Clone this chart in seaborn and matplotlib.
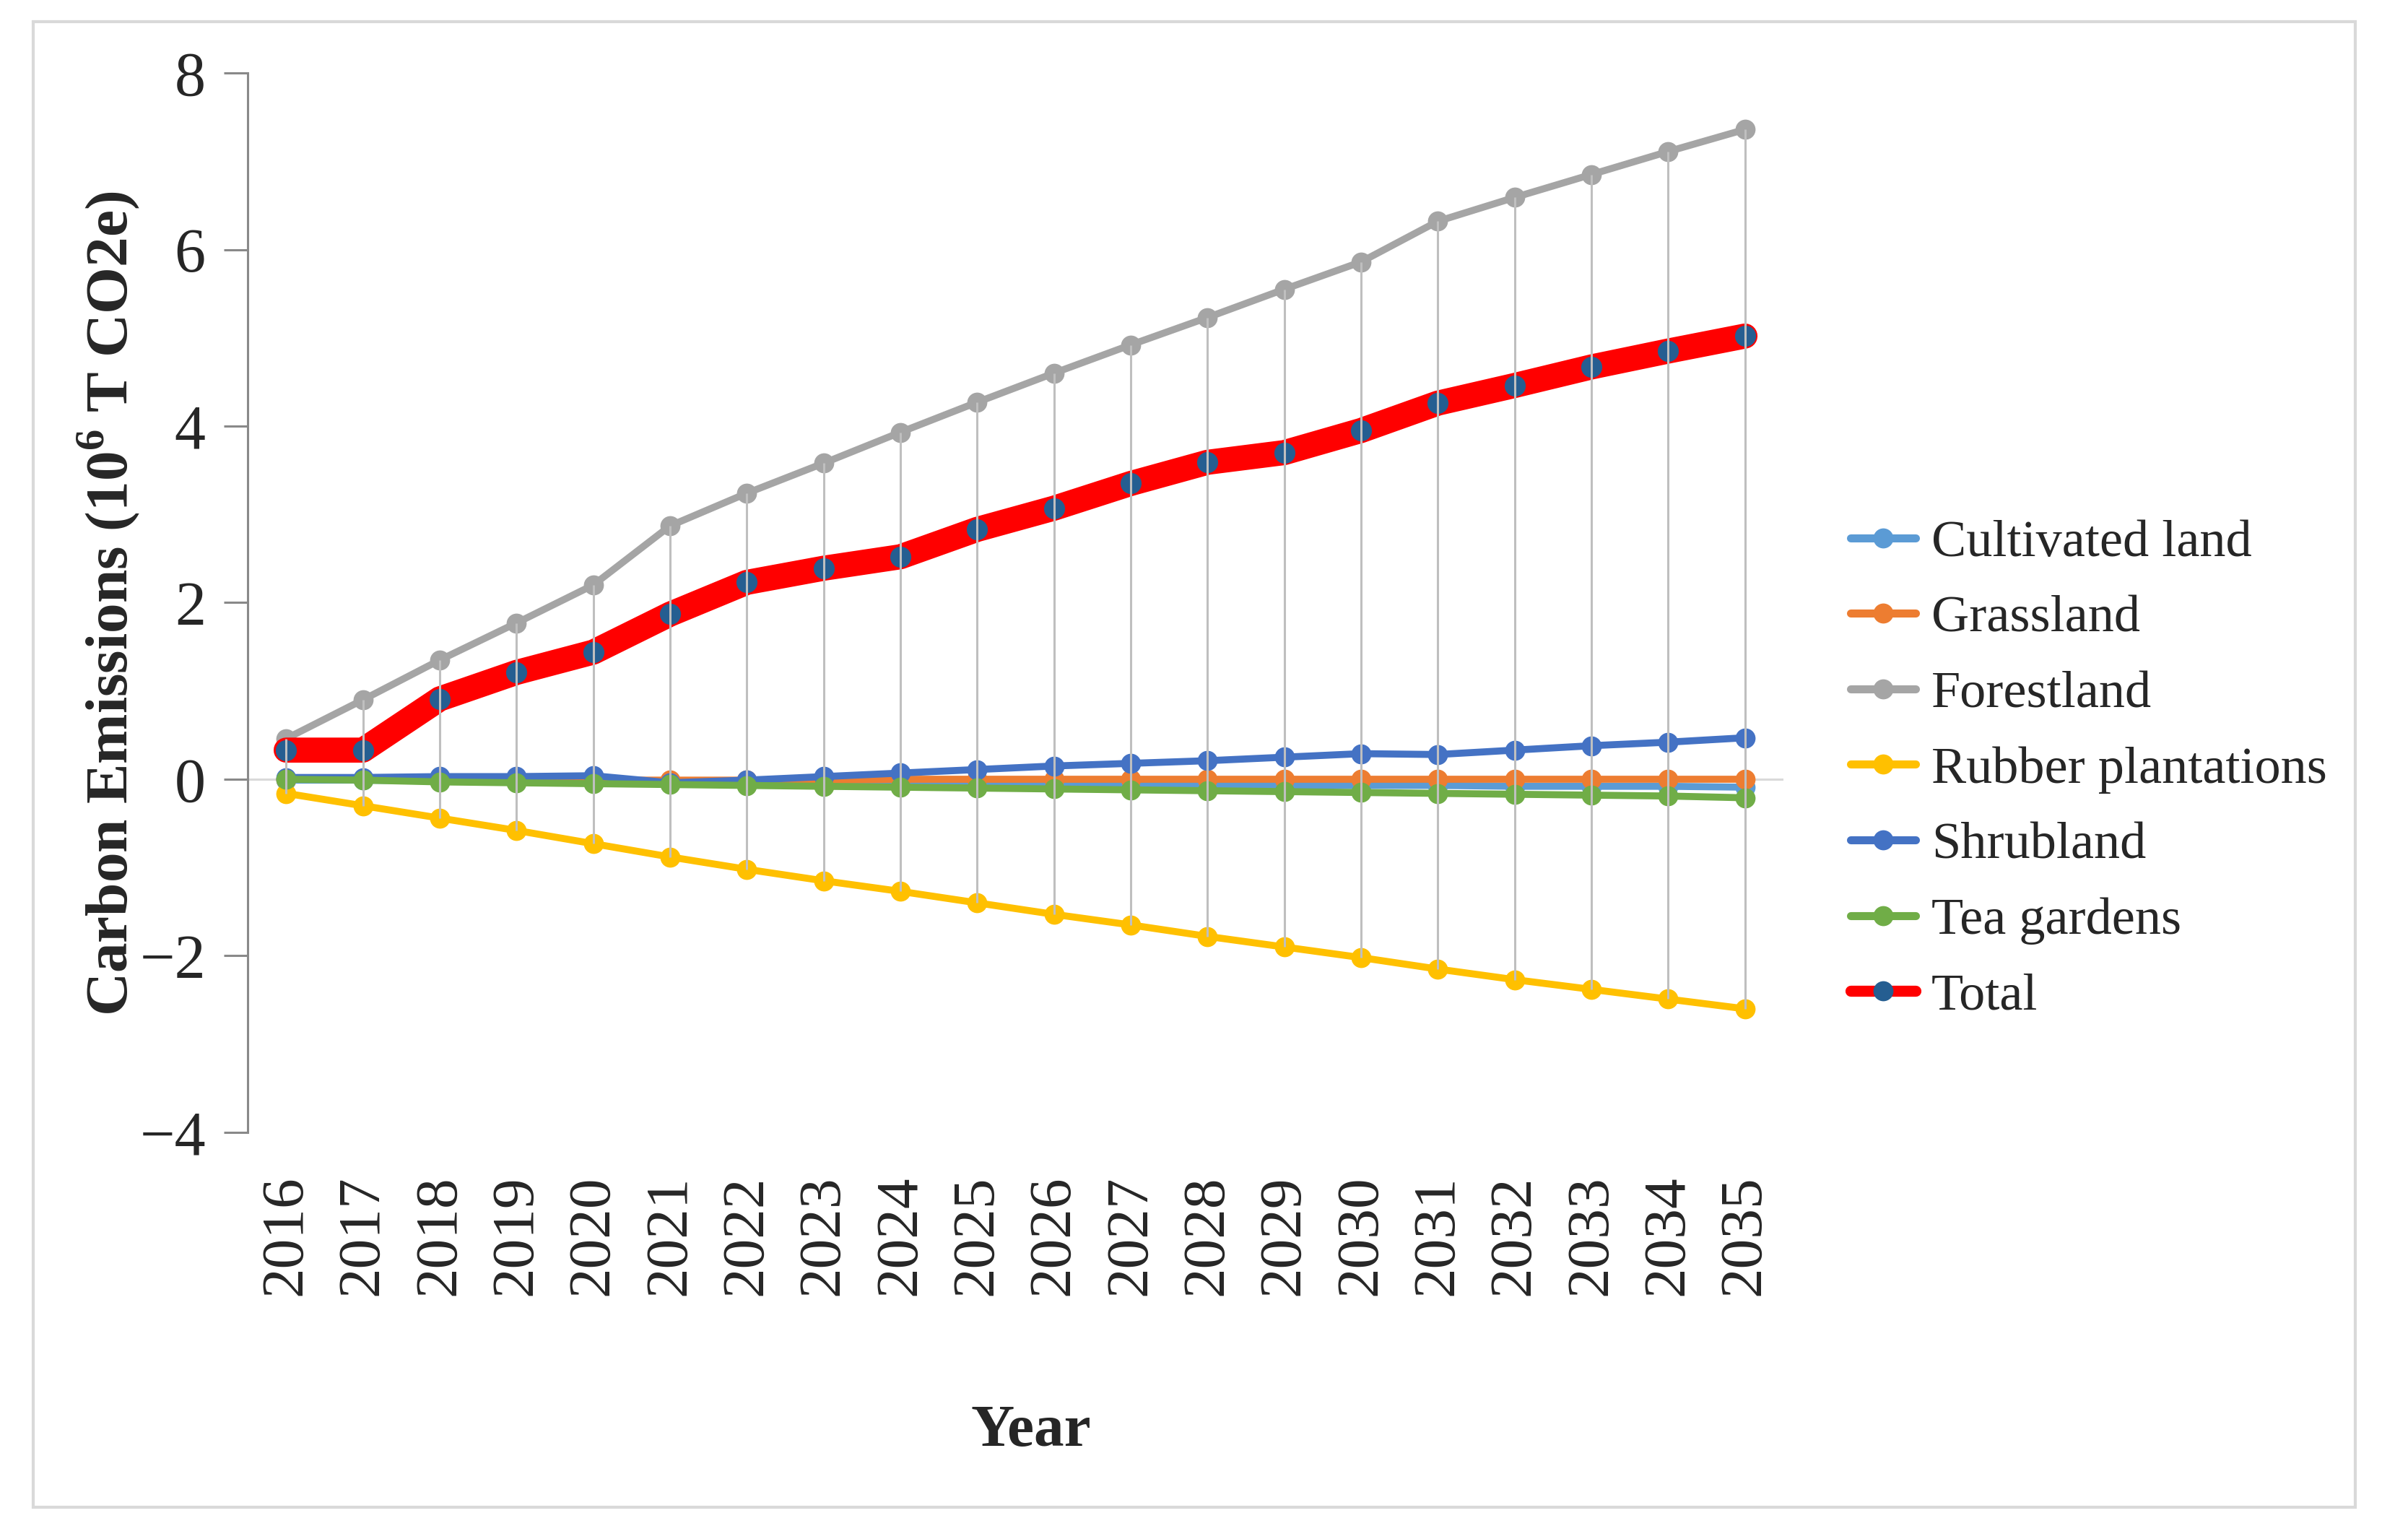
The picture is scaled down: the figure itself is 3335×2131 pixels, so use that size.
import matplotlib
matplotlib.use("Agg")
import matplotlib.pyplot as plt
from matplotlib.lines import Line2D
from matplotlib.patches import Rectangle
import pandas as pd
import seaborn as sns

# dados (10^6 T CO2e)
years = [2016, 2017, 2018, 2019, 2020, 2021, 2022, 2023, 2024, 2025,
         2026, 2027, 2028, 2029, 2030, 2031, 2032, 2033, 2034, 2035]
cultivated = [-0.01, -0.01, -0.02, -0.02, -0.03, -0.03, -0.04, -0.04, -0.05, -0.05,
              -0.06, -0.06, -0.06, -0.07, -0.07, -0.07, -0.08, -0.08, -0.08, -0.09]
grassland = [0.00, 0.00, -0.01, -0.01, -0.01, -0.01, -0.01, -0.01, 0.00, 0.00,
             0.00, 0.00, 0.00, 0.00, 0.00, 0.00, 0.00, 0.00, 0.00, 0.00]
forestland = [0.46, 0.90, 1.35, 1.77, 2.20, 2.87, 3.24, 3.58, 3.93, 4.27,
              4.60, 4.92, 5.23, 5.55, 5.86, 6.32, 6.59, 6.85, 7.11, 7.36]
rubber = [-0.16, -0.30, -0.44, -0.58, -0.73, -0.88, -1.02, -1.15, -1.27, -1.40,
          -1.53, -1.65, -1.78, -1.90, -2.02, -2.15, -2.27, -2.38, -2.49, -2.60]
shrubland = [0.02, 0.02, 0.03, 0.03, 0.04, -0.04, -0.01, 0.03, 0.07, 0.11,
             0.15, 0.18, 0.21, 0.25, 0.29, 0.28, 0.33, 0.38, 0.42, 0.47]
tea = [0.00, -0.01, -0.03, -0.04, -0.05, -0.06, -0.07, -0.08, -0.09, -0.10,
       -0.11, -0.12, -0.13, -0.14, -0.15, -0.16, -0.17, -0.18, -0.19, -0.21]
total = [0.33, 0.33, 0.91, 1.21, 1.44, 1.87, 2.23, 2.39, 2.52, 2.83,
         3.07, 3.35, 3.59, 3.70, 3.95, 4.26, 4.46, 4.67, 4.85, 5.02]

labels = ["Cultivated land", "Grassland", "Forestland", "Rubber plantations",
          "Shrubland", "Tea gardens", "Total"]
colors = ["#5B9BD5", "#ED7D31", "#A5A5A5", "#FFC000", "#4472C4", "#70AD47", "#FF0000"]
total_marker = "#255E91"

df = pd.DataFrame({"Year": years, "Cultivated land": cultivated, "Grassland": grassland,
                   "Forestland": forestland, "Rubber plantations": rubber,
                   "Shrubland": shrubland, "Tea gardens": tea, "Total": total})

sns.set_style("white")
plt.rcParams["font.family"] = ["Liberation Serif", "DejaVu Serif"]
plt.rcParams["mathtext.fontset"] = "custom"
plt.rcParams["mathtext.rm"] = "Liberation Serif"
plt.rcParams["mathtext.bf"] = "Liberation Serif:bold"

fig = plt.figure(figsize=(33.35, 21.31), dpi=100)
ax = fig.add_axes([0.1029, 0.2642, 0.6377, 0.6884])

# linha do zero
ax.axhline(0, color="#D9D9D9", lw=2.2, zorder=1)

for i, name in enumerate(labels):
    if name == "Total":
        sns.lineplot(data=df, x="Year", y=name, ax=ax, color=colors[i], lw=25,
                     marker="o", markersize=21, markerfacecolor=total_marker,
                     markeredgewidth=0, solid_capstyle="round",
                     solid_joinstyle="round", zorder=3 + i)
    else:
        sns.lineplot(data=df, x="Year", y=name, ax=ax, color=colors[i], lw=7,
                     marker="o", markersize=20, markeredgewidth=0,
                     solid_joinstyle="round", zorder=3 + i)

# linhas alta-baixa (estilo Excel)
series = df[labels[:-1]]
ax.vlines(df["Year"], series.min(axis=1), series.max(axis=1),
          color="#BFBFBF", lw=2.2, zorder=20)

ax.set_xlim(2015.5, 2035.5)
ax.set_ylim(-4, 8)
ax.set_yticks([-4, -2, 0, 2, 4, 6, 8])
ax.set_xticks(years)
ax.set_xticklabels([str(y) for y in years], rotation=90, fontsize=60)
ax.tick_params(axis="x", length=0, pad=43)
ax.tick_params(axis="y", labelsize=62, length=24, width=2.2, color="#898989", pad=18,
               direction="out", left=True)
ax.set_xlabel("")
ax.set_ylabel("")

for s in ["top", "right", "bottom"]:
    ax.spines[s].set_visible(False)
ax.spines["left"].set_color("#898989")
ax.spines["left"].set_linewidth(2.2)

fig.text(0.045, 0.608, r"Carbon Emissions (10$^{\mathbf{6}}$ T CO2e)",
         rotation=90, ha="center", va="center", fontsize=60, fontweight="bold")
fig.text(0.428, 0.0605, "Year", ha="center", va="baseline", fontsize=60,
         fontweight="bold")

handles = []
for i, name in enumerate(labels):
    if name == "Total":
        handles.append(Line2D([0], [0], color=colors[i], lw=11, marker="o", markersize=20,
                              markerfacecolor=total_marker, markeredgewidth=0,
                              solid_capstyle="round"))
    else:
        handles.append(Line2D([0], [0], color=colors[i], lw=8, marker="o", markersize=20,
                              markeredgewidth=0, solid_capstyle="round"))
fig.legend(handles, labels, loc="center left", bbox_to_anchor=(0.7685, 0.4998),
           frameon=False, fontsize=52, handlelength=1.25, handletextpad=0.3,
           labelspacing=0.54, borderpad=0, borderaxespad=0)

fig.patches.append(Rectangle((0.0138, 0.0206), 0.9643, 0.9653, transform=fig.transFigure,
                             fill=False, edgecolor="#D9D9D9", lw=3, zorder=0))

fig.savefig("out.png", dpi=100, facecolor="white")
